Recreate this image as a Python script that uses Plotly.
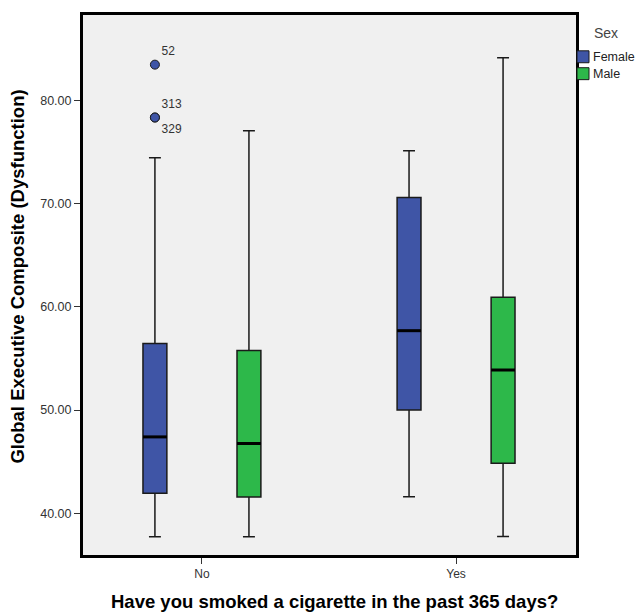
import plotly.graph_objects as go

# Grouping variable and its category positions on the x axis
categories = ["No", "Yes"]
cat_pos = [0, 1]
sexes = ["Female", "Male"]
colors = {"Female": "#3F55A6", "Male": "#2DB84A"}

# Five-number summaries per sex, ordered as categories (No, Yes)
stats = {
    "Female": {
        "lowerfence": [37.72, 41.60],
        "q1": [41.95, 50.00],
        "median": [47.40, 57.69],
        "q3": [56.44, 70.58],
        "upperfence": [74.45, 75.13],
    },
    "Male": {
        "lowerfence": [37.72, 37.76],
        "q1": [41.57, 44.84],
        "median": [46.76, 53.88],
        "q3": [55.77, 60.93],
        "upperfence": [77.05, 84.13],
    },
}

# Outlying cases (Female, No)
outlier_ids = ["52", "313", "329"]
outlier_vals = [83.46, 78.34, 78.34]
outlier_cat = "No"

# Layout geometry
W, H = 638, 614
ML, MR, MT, MB = 83, 62, 12, 59
offset = 0.185      # horizontal shift of each sex within a category
box_w = 0.094       # box width in x-axis units
y_range = [35.96, 88.27]
x_range = [-0.468, 1.472]
FONT = "Liberation Sans, Arial"

def px_x(px):
    return (px - ML) / (W - ML - MR)

def px_y(py):
    return (H - MB - py) / (H - MT - MB)

fig = go.Figure()

for sex in sexes:
    s = stats[sex]
    xs = [p + (-offset if sex == "Female" else offset) for p in cat_pos]
    fig.add_trace(go.Box(
        x=xs,
        q1=s["q1"], median=s["median"], q3=s["q3"],
        lowerfence=s["lowerfence"], upperfence=s["upperfence"],
        width=box_w, whiskerwidth=0.5,
        fillcolor=colors[sex],
        line=dict(color="#1a1a1a", width=1.5),
        boxpoints=False, showlegend=False, hoverinfo="skip",
    ))
    # heavy median bars
    mx, my = [], []
    for x, m in zip(xs, s["median"]):
        mx += [x - box_w / 2, x + box_w / 2, None]
        my += [m, m, None]
    fig.add_trace(go.Scatter(
        x=mx, y=my, mode="lines",
        line=dict(color="black", width=3),
        showlegend=False, hoverinfo="skip",
    ))

# outlier points with case labels
ox = cat_pos[categories.index(outlier_cat)] - offset
fig.add_trace(go.Scatter(
    x=[ox] * len(outlier_vals), y=outlier_vals,
    mode="markers+text",
    marker=dict(size=9, color=colors["Female"], line=dict(color="#1a1a1a", width=1)),
    text=outlier_ids,
    textposition=["top right", "top right", "bottom right"],
    textfont=dict(size=12, color="#333333", family=FONT),
    showlegend=False, hoverinfo="skip",
))

annotations = [
    dict(text="<b>Have you smoked a cigarette in the past 365 days?</b>",
         x=px_x(334), y=px_y(602), xref="paper", yref="paper",
         showarrow=False, xanchor="center", yanchor="middle",
         font=dict(size=18.5, color="black", family=FONT)),
    dict(text="<b>Global Executive Composite (Dysfunction)</b>",
         x=px_x(18), y=px_y(275), xref="paper", yref="paper",
         showarrow=False, xanchor="center", yanchor="middle", textangle=-90,
         font=dict(size=18.5, color="black", family=FONT)),
    dict(text="Sex", x=px_x(592), y=px_y(30), xref="paper", yref="paper",
         showarrow=False, xanchor="left", yanchor="middle",
         font=dict(size=14, color="#444444", family=FONT)),
]
shapes = []
for i, sex in enumerate(sexes):
    cy = 54 + 17 * i
    shapes.append(dict(type="rect", xref="paper", yref="paper",
                       x0=px_x(577), x1=px_x(589), y0=px_y(cy + 6), y1=px_y(cy - 6),
                       fillcolor=colors[sex], line=dict(color="#1a1a1a", width=1)))
    annotations.append(dict(text=sex, x=px_x(591), y=px_y(cy), xref="paper", yref="paper",
                            showarrow=False, xanchor="left", yanchor="middle",
                            font=dict(size=12.5, color="#222222", family=FONT)))

fig.update_layout(
    width=W, height=H,
    margin=dict(l=ML, r=MR, t=MT, b=MB),
    paper_bgcolor="white", plot_bgcolor="#F0F0F0",
    boxmode="overlay", showlegend=False,
    annotations=annotations, shapes=shapes,
    font=dict(family=FONT, size=11, color="#333333"),
)
fig.update_xaxes(
    range=x_range, tickvals=cat_pos, ticktext=categories,
    showgrid=False, zeroline=False,
    showline=True, linecolor="black", linewidth=3, mirror=True,
    ticks="outside", ticklen=6, tickcolor="#333333", tickwidth=1,
    tickfont=dict(size=12, color="#333333"),
)
fig.update_yaxes(
    range=y_range, tickvals=[40, 50, 60, 70, 80], tickformat=".2f",
    showgrid=False, zeroline=False,
    showline=True, linecolor="black", linewidth=3, mirror=True,
    ticks="outside", ticklen=6, tickcolor="#333333", tickwidth=1,
    tickfont=dict(size=12.5, color="#333333"),
)

fig.write_html("out.html")
